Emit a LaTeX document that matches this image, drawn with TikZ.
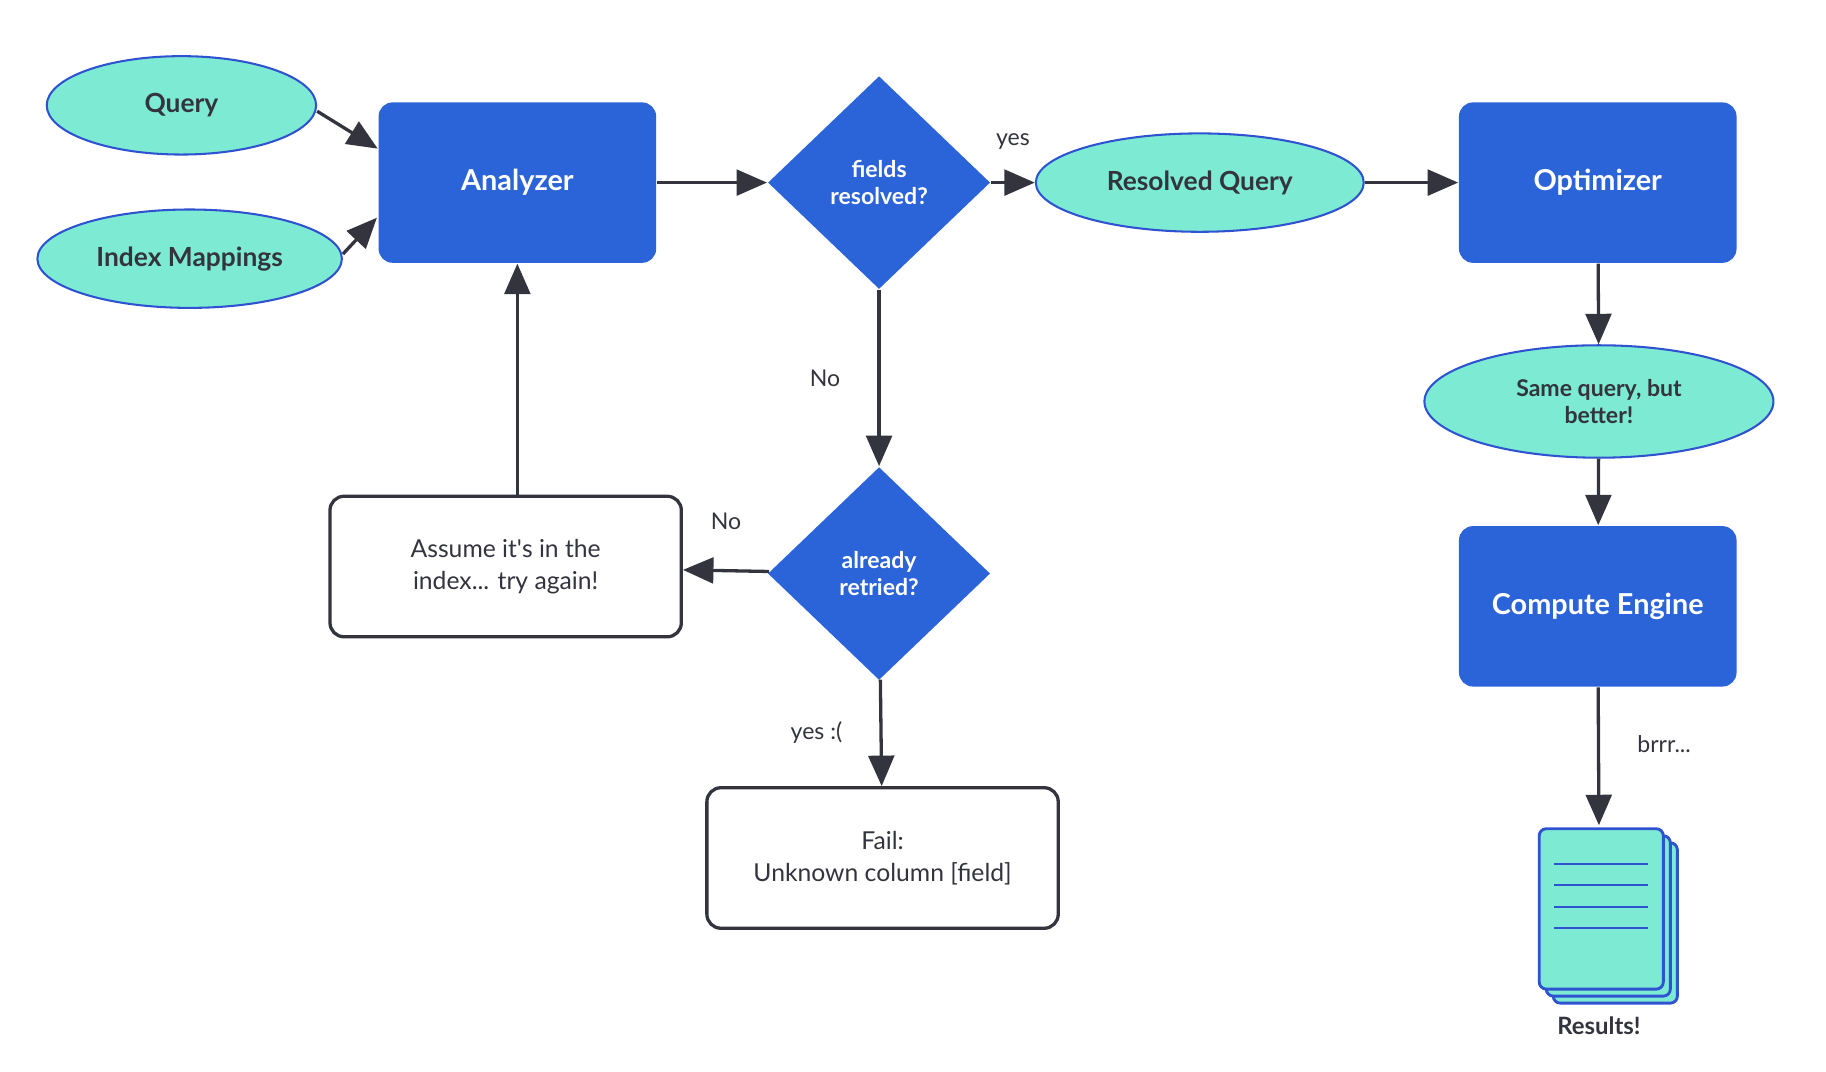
\documentclass[tikz,border=0pt]{standalone}
\usepackage{fontspec}
\setmainfont{Lato}
\usepackage{tikz}
\usetikzlibrary{calc, arrows.meta, positioning, shapes.geometric}
\definecolor{boxblue}{HTML}{2B63D9}
\definecolor{mint}{HTML}{7DEBD3}
\definecolor{rim}{HTML}{2F52D0}
\definecolor{ink}{HTML}{33343D}

\begin{document}
\begin{tikzpicture}[x=0.01cm, y=-0.01cm,
    block/.style={rectangle, rounded corners=1.2mm, fill=boxblue, text=white,
        font=\fontsize{7}{8}\selectfont\bfseries, minimum width=2.37cm, minimum height=1.37cm},
    pill/.style={ellipse, draw=rim, line width=0.5pt, fill=mint, text=ink, inner sep=0pt,
        font=\fontsize{6.4}{7}\selectfont\bfseries, align=center},
    choice/.style={diamond, fill=boxblue, text=white, inner sep=0pt, align=center,
        font=\fontsize{5.6}{6.6}\selectfont\bfseries, minimum width=1.9cm, minimum height=1.82cm},
    note/.style={rectangle, rounded corners=1.2mm, draw=ink, line width=0.8pt, fill=white,
        text=ink, align=center, font=\fontsize{6}{7.8}\selectfont,
        minimum width=3.0cm, minimum height=1.2cm},
    tag/.style={text=ink, font=\fontsize{5.6}{6}\selectfont},
    flow/.style={draw=ink, line width=0.8pt, -{Triangle[length=2.6mm, width=2.2mm]}}]

  \useasboundingbox (0,0) rectangle (1560,915);

  % inputs
  \node[pill, minimum width=2.3cm, minimum height=0.84cm] (query) at (155,90) {Query};
  \node[pill, minimum width=2.6cm, minimum height=0.84cm] (mappings) at (162,221) {Index Mappings};

  % main row
  \node[block] (analyzer) at (442,156) {Analyzer};
  \node[choice] (resolved) at (751,156) {fields\\resolved?};
  \node[pill, minimum width=2.8cm, minimum height=0.84cm] (rquery) at (1025,156) {Resolved Query};
  \node[block] (optimizer) at (1365,156) {Optimizer};

  % retry branch
  \node[choice] (retried) at (751,490) {already\\retried?};
  \node[note] (assume) at (432,484) {Assume it\textquotesingle s in the\\index... try again!};
  \node[note] (fail) at (754,733) {Fail:\\Unknown column [field]};

  % right column
  \node[pill, minimum width=2.98cm, minimum height=0.96cm, font=\fontsize{5.6}{6.6}\selectfont\bfseries] (better) at (1366,343) {Same query, but\\better!};
  \node[block] (engine) at (1365,518) {Compute Engine};

  % results document
  \foreach \d in {12,6} {
    \draw[draw=rim, fill=mint, line width=0.7pt, rounded corners=0.6mm]
      (1315+\d,708+\d) rectangle (1421+\d,845+\d);
  }
  \draw[draw=rim, fill=mint, line width=0.7pt, rounded corners=0.6mm] (1315,708) rectangle (1421,845);
  \foreach \y in {738,756,775,793} {
    \draw[rim, line width=0.6pt] (1328,\y) -- (1408,\y);
  }
  \coordinate (results) at (1366,705);
  \node[tag, font=\fontsize{5.8}{6}\selectfont\bfseries] (rlabel) at (1366,876) {Results!};

  % connectors
  \draw[flow] (query.east) ++(0,5) -- (analyzer.north west |- 0,127) ;
  \draw[flow] (mappings) ++(131,-4) -- (322,186);
  \draw[flow] (analyzer) -- (resolved);
  \draw[flow] (resolved) -- (rquery) node[tag, midway, above=1.5mm] {yes};
  \draw[flow] (rquery) -- (optimizer);
  \draw[flow] (resolved) -- (retried) node[tag, midway, left=2mm] {No};
  \draw[flow] (retried) -- (assume) node[tag, midway, above=2.2mm] {No};
  \draw[flow] (assume.north -| analyzer) -- (analyzer);
  \draw[flow] (retried) -- (fail) node[tag, midway, left=2mm] {yes :(};
  \draw[flow] (optimizer) -- (better);
  \draw[flow] (better) -- (engine);
  \draw[flow] (engine) -- (results) node[tag, midway, right=2mm, yshift=1mm] {brrr...};
\end{tikzpicture}
\end{document}
